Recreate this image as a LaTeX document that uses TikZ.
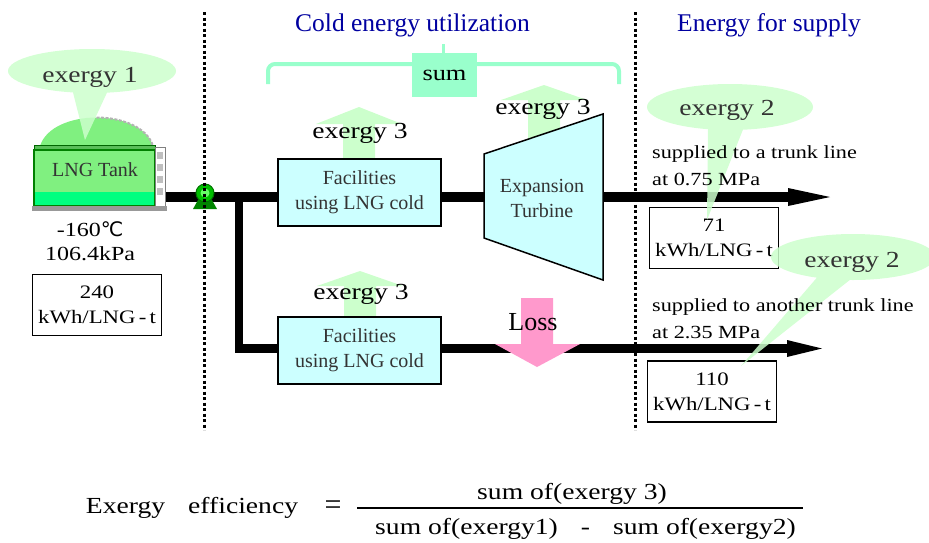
\documentclass[tikz,border=0pt]{standalone}
\usepackage{fontspec}
\setmainfont{Liberation Serif}
\newfontfamily\wideserif[FakeStretch=1.2]{Liberation Serif}
\newfontfamily\symbolfont{DejaVu Sans}
\usetikzlibrary{arrows.meta}
\definecolor{cyanfill}{RGB}{204,255,255}
\definecolor{calloutgreen}{RGB}{204,255,204}
\definecolor{mintgreen}{RGB}{153,255,204}
\definecolor{tankgreen}{RGB}{128,240,128}
\definecolor{springgreen}{RGB}{0,255,128}
\definecolor{rimgreen}{RGB}{90,190,90}
\definecolor{valvegreen}{RGB}{0,190,0}
\definecolor{losspink}{RGB}{255,153,204}
\definecolor{titleblue}{RGB}{0,0,160}
\definecolor{textgrey}{RGB}{51,51,51}

\begin{document}
\begin{tikzpicture}[x=1pt, y=-1pt,
                cyansquarednode/.style={rectangle, draw=black, fill=cyanfill, line width=2.5pt, minimum width=163pt, minimum height=67pt, inner sep=0pt, align=center, text=textgrey, font=\fontsize{20}{25}\selectfont},
                valuesquarednode/.style={rectangle, draw=black, fill=white, line width=1.2pt, minimum width=129pt, minimum height=61pt, inner sep=0pt, align=center, font=\wideserif\fontsize{19}{25}\selectfont},
                mintsquarednode/.style={rectangle, fill=mintgreen, minimum width=65pt, minimum height=44pt, inner sep=0pt, font=\wideserif\fontsize{22}{26}\selectfont},
                exergylabel/.style={font=\wideserif\fontsize{23}{28}\selectfont, inner sep=0pt},
                supplylabel/.style={font=\wideserif\fontsize{18.5}{22}\selectfont, inner sep=0pt, anchor=west},
                titlelabel/.style={font=\fontsize{25.5}{30}\selectfont, text=titleblue, inner sep=0pt},
                formulalabel/.style={font=\wideserif\fontsize{23}{27}\selectfont, inner sep=0pt},
                pipe/.style={line width=10pt, black},
                exergyfill/.style={fill=calloutgreen},
                calloutfill/.style={fill=calloutgreen, fill opacity=0.85},
                dottedline/.style={line width=3pt, dash pattern=on 3pt off 2.5pt},
                ]
                \useasboundingbox (0,0) rectangle (929,542);

                \coordinate (tankout) at (165,197);
                \coordinate (junc) at (239,197);
                \coordinate (outA) at (830,197);
                \coordinate (outB) at (822,348.5);

                % pipes
                \draw[pipe, -{Triangle[length=42pt, width=18pt, line width=0pt]}] (tankout) -- (outA);
                \draw[pipe, line width=8.5pt, -{Triangle[length=35pt, width=17pt, line width=0pt]}] (junc) |- (outB);

                % tank
                \fill[tankgreen] (40,146) .. controls (52,108) and (141,108) .. (153,146) -- cycle;
                \draw[gray!60, line width=2pt, dash pattern=on 3pt off 1.5pt] (96.5,117.5) .. controls (121.75,117.5) and (147,127) .. (153,146);
                \filldraw[fill=rimgreen, draw=black!60!green, line width=1pt] (34,145) rectangle (155,150);
                \fill[tankgreen] (34,150) rectangle (155,192);
                \fill[springgreen] (34,192) rectangle (155,206);
                \draw[black!50!green, line width=1.2pt] (34,150) rectangle (155,206);
                \filldraw[fill=white, draw=gray, line width=1pt] (155,147) rectangle (165,206);
                \foreach \ty in {152,164,176,188}
                    \fill[gray!50] (157,\ty) rectangle (163,\ty+7);
                \fill[gray!80] (32,206) rectangle (167,211);

                % valve
                \fill[valvegreen!70!black] (193,209) -- (198,200) -- (212,200) -- (217,209) -- cycle;
                \node[circle, fill=valvegreen, draw=valvegreen!60!black, line width=1pt, minimum size=18pt, inner sep=0pt] (valve) at (205,193) {};
                \fill[green!60!white] (valve) circle (4.5pt);

                % exergy 3 arrows and loss
                \foreach \ax/\ab/\ah/\at in {359/158/124/107, 544/140/100/85, 360/316/286/271}
                    \fill[exergyfill] (\ax-16,\ab) -- (\ax-16,\ah) -- (\ax-43,\ah) -- (\ax,\at) -- (\ax+43,\ah) -- (\ax+16,\ah) -- (\ax+16,\ab) -- cycle;
                \fill[losspink] (521,298) -- (553,298) -- (553,344) -- (580,344) -- (537,367) -- (495,344) -- (521,344) -- cycle;

                \node[cyansquarednode] (facA) at (359.5,192.5) {Facilities\\using LNG cold};
                \node[cyansquarednode] (facB) at (359.5,350.5) {Facilities\\using LNG cold};
                \filldraw[fill=cyanfill, draw=black, line width=1.5pt] (484,154) -- (603,114) -- (603,280) -- (484,238) -- cycle;
                \node[text=textgrey, font=\fontsize{20}{25}\selectfont, align=center] (turbine) at (542,198) {Expansion\\Turbine};

                \node[valuesquarednode] (valueA) at (97,305) {240\\kWh/LNG\,-\,t};
                \node[valuesquarednode] (valueB) at (714,238) {71\\kWh/LNG\,-\,t};
                \node[valuesquarednode] (valueC) at (712,391.5) {110\\kWh/LNG\,-\,t};

                % sum bracket
                \draw[mintgreen, line width=4pt, rounded corners=7pt] (268,84) -- (268,64) -- (619,64) -- (619,84);
                \draw[mintgreen, line width=3pt] (443,64) -- (443,44);
                \node[mintsquarednode] (sum) at (444.5,75) {sum};

                % dividers
                \draw[dottedline] (204,12) -- (204,430);
                \draw[dottedline] (635,12) -- (635,430);

                % callouts
                \fill[calloutfill] (92,71) ellipse [x radius=84pt, y radius=22pt] (73,92.4) -- (85,140) -- (107,92.6) -- cycle;
                \fill[calloutfill] (730,107) ellipse [x radius=83pt, y radius=23pt] (708,129) -- (707,220) -- (743,129.5) -- cycle;
                \fill[calloutfill] (853,257) ellipse [x radius=82pt, y radius=23pt] (817,277.5) -- (741,366) -- (850,279.8) -- cycle;

                \node[exergylabel, text=textgrey] (exergyone) at (90,77) {exergy 1};
                \node[exergylabel, text=textgrey] (exergytwoA) at (727,110) {exergy 2};
                \node[exergylabel, text=textgrey] (exergytwoB) at (852,262) {exergy 2};
                \node[exergylabel] (exergythreeA) at (360,133) {exergy 3};
                \node[exergylabel] (exergythreeB) at (543,109) {exergy 3};
                \node[exergylabel] (exergythreeC) at (361,294) {exergy 3};
                \node[font=\fontsize{26}{30}\selectfont, inner sep=0pt] (loss) at (533,322) {Loss};

                \node[font=\fontsize{20}{24}\selectfont, text=textgrey, inner sep=0pt] (tank) at (95,170) {LNG Tank};
                \node[font=\wideserif\fontsize{20}{24}\selectfont, inner sep=0pt] (temp) at (90,229) {-160{\symbolfont ℃}};
                \node[font=\wideserif\fontsize{20}{24}\selectfont, inner sep=0pt] (press) at (90,253.5) {106.4kPa};

                \node[supplylabel] (supplyA) at (652,154.5) {supplied to a trunk line};
                \node[supplylabel] (pressA) at (652,179) {at 0.75 MPa};
                \node[supplylabel] (supplyB) at (652,307) {supplied to another trunk line};
                \node[supplylabel] (pressB) at (652,332) {at 2.35 MPa};

                \node[titlelabel] (coldtitle) at (412.5,25) {Cold energy utilization};
                \node[titlelabel] (supplytitle) at (769,25) {Energy for supply};

                % efficiency formula
                \node[formulalabel] (effname) at (192,507.5) {Exergy\quad efficiency};
                \node[font=\fontsize{30}{34}\selectfont, inner sep=0pt] (equals) at (333,508) {=};
                \coordinate (barL) at (357,508);
                \coordinate (barR) at (803,508);
                \draw[line width=1.5pt] (barL) -- (barR);
                \node[formulalabel] (numer) at (572,494) {sum of(exergy 3)};
                \node[formulalabel] (denom) at (585.5,528.5) {sum of(exergy1)\quad-\quad sum of(exergy2)};
\end{tikzpicture}
\end{document}
